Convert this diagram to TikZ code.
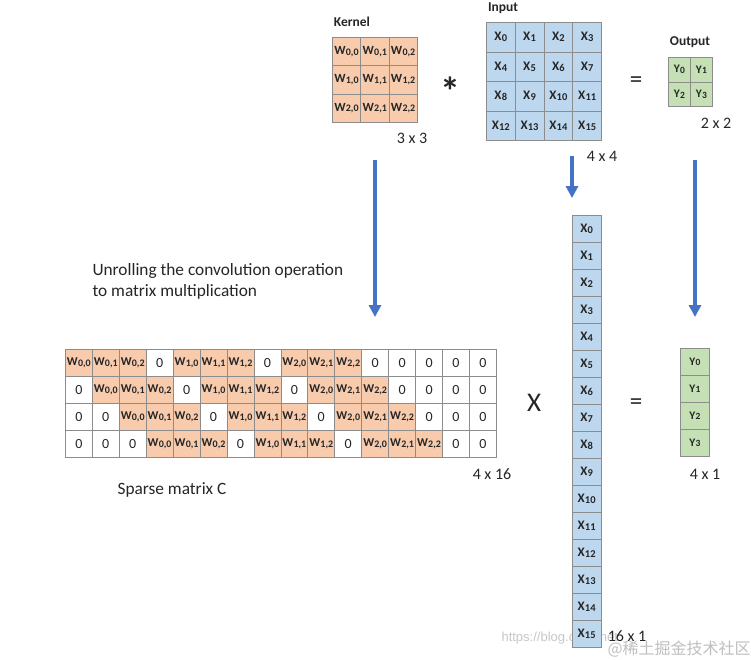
\documentclass[tikz,border=0pt]{standalone}
\usepackage{fontspec}
\setmainfont{Carlito}
\newfontfamily\cjkfont{Noto Sans CJK SC}
\newfontfamily\wmfont{Liberation Sans}
\usetikzlibrary{arrows.meta}
\definecolor{org}{HTML}{F8CBAD}
\definecolor{blu}{HTML}{BDD7EE}
\definecolor{grn}{HTML}{C5E0B4}
\definecolor{gridc}{HTML}{8C8C8C}
\definecolor{arr}{HTML}{4472C4}
\definecolor{txt}{HTML}{262626}
\newcommand{\wsub}[1]{W\kern0.2pt{\fontsize{10}{10}\selectfont\raisebox{-0.7pt}{#1}}}
\newcommand{\xsub}[1]{X\kern0.2pt{\fontsize{10.5}{10.5}\selectfont\raisebox{-0.7pt}{#1}}}
\newcommand{\ysub}[1]{Y\kern0.2pt{\fontsize{9.5}{9.5}\selectfont\raisebox{-0.6pt}{#1}}}
\begin{document}
\begin{tikzpicture}[x=1pt,y=-1pt,
  cellbase/.style={draw=gridc, line width=0.7pt, inner sep=0pt, anchor=north west, text=txt},
  kcell/.style={cellbase, fill=org, minimum width=28.3pt, minimum height=28.3pt, font=\fontsize{12.5}{12.5}\selectfont\bfseries},
  icell/.style={cellbase, fill=blu, minimum width=28.8pt, minimum height=29.5pt, font=\fontsize{13}{13}\selectfont\bfseries},
  ocell/.style={cellbase, fill=grn, minimum width=22pt, minimum height=24.5pt, font=\fontsize{11.5}{11.5}\selectfont\bfseries},
  swcell/.style={cellbase, fill=org, minimum width=26.94pt, minimum height=27pt, font=\fontsize{12}{12}\selectfont\bfseries},
  szcell/.style={cellbase, fill=white, minimum width=26.94pt, minimum height=27pt, font=\fontsize{14}{14}\selectfont},
  xcell/.style={cellbase, fill=blu, minimum width=28.5pt, minimum height=27pt, font=\fontsize{13}{13}\selectfont\bfseries},
  ycell/.style={cellbase, fill=grn, minimum width=29pt, minimum height=27pt, font=\fontsize{11.5}{11.5}\selectfont\bfseries},
  title/.style={font=\fontsize{13.5}{13.5}\selectfont\bfseries, text=txt},
  dimlabel/.style={font=\fontsize{16}{16}\selectfont, text=txt},
  oplabel/.style={font=\fontsize{25}{25}\selectfont, text=txt},
  bodytext/.style={font=\fontsize{17.3}{21}\selectfont, text=txt, align=left},
  bigarrow/.style={draw=arr, line width=3.6pt, -{Triangle[width=12pt,length=12pt]}}
]
\useasboundingbox (0,0) rectangle (751,659);
\fill[white] (0,0) rectangle (751,659);

% watermark (behind)
\node[font=\wmfont\fontsize{13}{13}\selectfont, text=black!22, anchor=west] (wmurl) at (498,638) {https://blog.csdn.net};

% Kernel
\foreach \r in {0,1,2} \foreach \c in {0,1,2}
  \node[kcell] (k\r\c) at ({332+28.3*\c},{37+28.3*\r}) {\wsub{\r,\c}};
\node[title] (klab) at (352,22) {Kernel};
\node[dimlabel] (kdim) at (412,138) {3 x 3};

\node[font=\fontsize{40}{40}\selectfont\bfseries, text=txt] (star) at (450,91) {*};

% Input
\foreach \r in {0,...,3} \foreach \c in {0,...,3} {
  \pgfmathtruncatemacro{\n}{4*\r+\c}
  \node[icell] (i\r\c) at ({486+28.8*\c},{22+29.5*\r}) {\xsub{\n}};
}
\node[title] (ilab) at (503,8) {Input};
\node[dimlabel] (idim) at (602,156) {4 x 4};

\node[oplabel] (eq1) at (636,82) {=};

% Output
\foreach \r in {0,1} \foreach \c in {0,1} {
  \pgfmathtruncatemacro{\n}{2*\r+\c}
  \node[ocell] (o\r\c) at ({668+22*\c},{57+24.5*\r}) {\ysub{\n}};
}
\node[title] (olab) at (690,42) {Output};
\node[dimlabel] (odim) at (716,123) {2 x 2};

% arrows
\coordinate (a1s) at (375,160);
\coordinate (a1e) at (375,317);
\coordinate (a2s) at (572,156);
\coordinate (a2e) at (572,198);
\coordinate (a3s) at (695,160);
\coordinate (a3e) at (695,317);
\draw[bigarrow] (a1s) -- (a1e);
\draw[bigarrow] (a2s) -- (a2e);
\draw[bigarrow] (a3s) -- (a3e);

\node[bodytext, anchor=west] (unroll) at (89,281) {Unrolling the convolution operation\\to matrix multiplication};

% Sparse matrix C
\foreach \r in {0,...,3} {
  \foreach \c in {0,...,15} {
    \pgfmathtruncatemacro{\k}{\c-\r}
    \pgfmathtruncatemacro{\a}{floor(\k/4)}
    \pgfmathtruncatemacro{\b}{\k-4*\a}
    \pgfmathtruncatemacro{\isw}{(\k>-1)*(\k<12)*(\b<3)}
    \ifnum\isw=1
      \node[swcell] (c\r-\c) at ({65+26.94*\c},{349+27*\r}) {\wsub{\a,\b}};
    \else
      \node[szcell] (c\r-\c) at ({65+26.94*\c},{349+27*\r}) {0};
    \fi
  }
}
\node[dimlabel] (cdim) at (492,474) {4 x 16};
\node[bodytext] (clab) at (172,490) {Sparse matrix C};

\node[font=\fontsize{27}{27}\selectfont, text=txt] (times) at (534,403) {X};

% X column
\foreach \n in {0,...,15}
  \node[xcell] (x\n) at (572,{215+27*\n}) {\xsub{\n}};
\node[dimlabel] (xdim) at (627,636) {16 x 1};

\node[oplabel] (eq2) at (636,404) {=};

% Y column
\foreach \n in {0,...,3}
  \node[ycell] (y\n) at (680,{348+27*\n}) {\ysub{\n}};
\node[dimlabel] (ydim) at (705,474) {4 x 1};

% watermark (front)
\node[font=\cjkfont\fontsize{16}{16}\selectfont, text=black!25, anchor=west] (wmcjk) at (604,649) {@稀土掘金技术社区};
\end{tikzpicture}
\end{document}
